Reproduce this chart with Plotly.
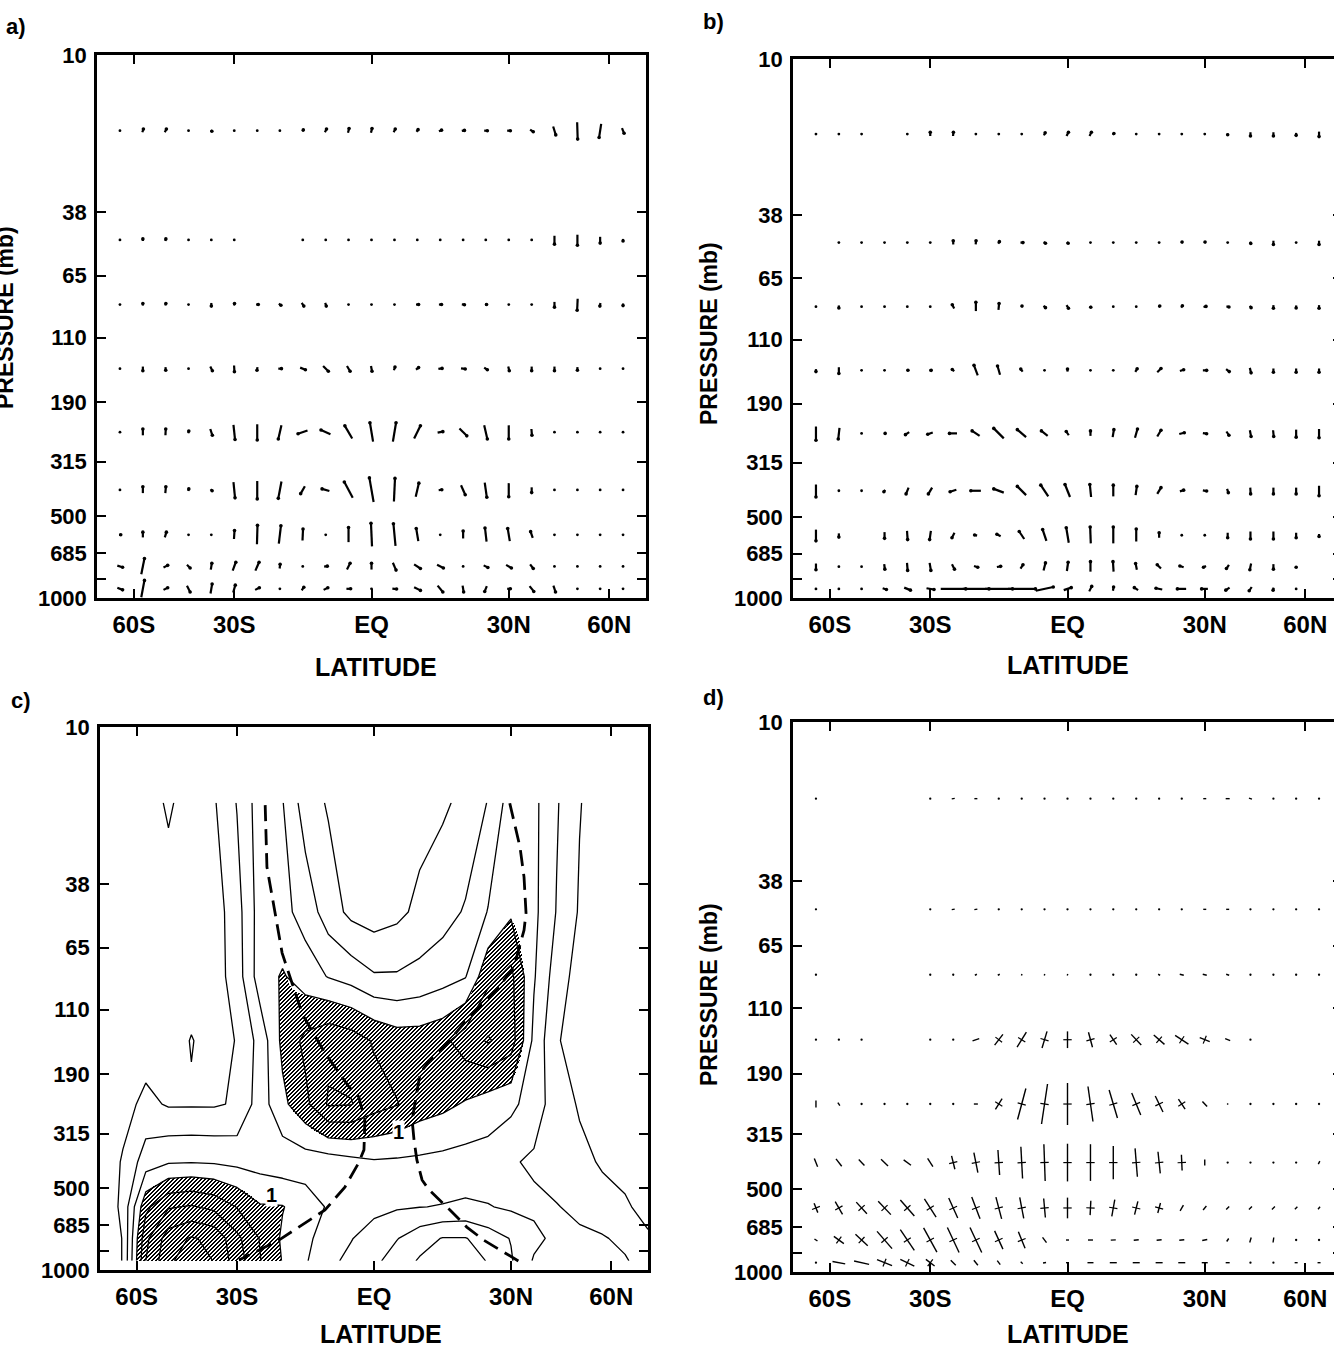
import math
import numpy as np
import plotly.graph_objects as go

FIG_W, FIG_H = 1346, 1348

# ---------------------------------------------------------------- grid
LAT = [-66.4, -56.4, -48.6, -41.8, -35.7, -30.0, -24.6, -19.5, -14.5, -9.6, -4.8, 0.0,
       4.8, 9.6, 14.5, 19.5, 24.6, 30.0, 35.7, 41.8, 48.6, 56.4, 66.4]
LEV = [19, 48, 83, 143, 245, 400, 585, 765, 925]          # mb
LAT_C = [-90.0] + LAT + [90.0]                              # contour grid incl. poles

PRESSURE_TICKS = [10, 38, 65, 110, 190, 315, 500, 685, 850, 1000]
PRESSURE_LABELS = ["10", "38", "65", "110", "190", "315", "500", "685", "", "1000"]
LAT_TICKS = [-60, -30, 0, 30, 60]
LAT_LABELS = ["60S", "30S", "EQ", "30N", "60N"]

# ---------------------------------------------------------------- (a) vectors (u northward, w upward)
A_UV = [
    [(0,0),(1,3),(1.5,3),(0.5,0),(1,-1),(0,0),(1,-0.5),(0,0),(1,1.5),(1.5,3),(1,4),(1,4),(1.5,3),(1.5,2),(2.5,1),(2.5,0.5),(3,0),(3,0),(3,-2),(2.5,-8),(0.5,-16),(-2,-13),(2,-5)],
    [(0,0),(0,2),(0.5,2),(0,0),(0,0),(0,0),None,None,(0,0),(0.3,0.8),(0.3,1),(0,0),(0,0),(0,0),(0,0),(0.5,1),(0.5,1),(0,0),(0.5,-1),(0,-8),(0,-10),(0,-6),(0,-2)],
    [(0,0),(0,2),(0.5,2),(0.5,-0.5),(0,-3),(0.5,2),(2,0),(2,-1.5),(2,-3),(1,-3),(0.3,-1),(0,0),(1,0),(2.5,0),(2.5,0),(2.5,-0.3),(1.5,0),(0,0),(0,-1),(0,-5),(-0.5,-11),(-0.5,-3),(0,-2)],
    [(0,0),(0,-4),(0.3,-3),(0.5,-0.5),(2,-4),(0.3,-6),(-0.5,-3),(3,0),(5,-2),(5,-5),(3,-5),(1,-5),(1,3),(2.5,2),(3.5,0.5),(4,-0.5),(3,-2),(1,-4),(0,-4),(0,-4),(0,-3),(0,0),(0,0)],
    [(0,0),(0,6),(0.3,6),(0.5,2),(2,-6),(1.5,-14),(0,-15),(-3,-13),(-9,-3),(-9,4),(-7,12),(-3,18),(3,18),(6,12),(5,1),(7,-7),(3,-13),(0,-13),(0.5,-6),(0.5,1),(0,0),(0,0),(0,0)],
    [(0,0),(0,6),(0.5,6),(0.5,2),(1.5,-1.5),(1.5,-15),(0,-17),(-3,-16),(-4,-7),(-7,2),(-8,15),(-4,23),(1,22),(3,13),(3,0.5),(4,-9),(2,-14),(0,-13),(0,-5),(0,0),(0,0),(0,0),(0,0)],
    [(1.5,0),(0,5),(1.5,5),(0.5,0.5),(0,0),(0.5,8),(0.5,18),(2,17),(0.5,11),(0,0),(0,14),(-1,22),(-2,21),(-2,12),(0,0),(0,7),(-1.5,13),(-2,12),(-2,6),(0,0),(0,0),(0,0),(0,0)],
    [(5,-1.5),(3,15),(4,2),(3,-3),(1,6),(3,8),(3.5,8),(0.5,4),(1,0),(3,0.5),(3,6),(0,6),(3,-7),(6,-4),(6,-3),(1,0),(4,-2),(5,-3),(3,-4),(0,0),(0,0),(0,0),(0,0)],
    [(5,-2),(3,16),(4,2),(3,-6),(1.5,9),(2,7),(4,2),(0,0),(2,3),(4,2),(4,0),(0,0),(4,-0.5),(6,-3),(5,-6),(1,-6),(-2,-5),(3,0),(4,-5),(2,-6),(0.5,0),(0,0),(0,0)],
]

# ---------------------------------------------------------------- (b) vectors
B_UV = [
    [(0,0),(0,0),(0,0),None,(0,0),(0,3),(0.3,3),(0,0),(0,0),(0,0),(1,2),(1.5,3),(1.5,3),(1,1),(0,0),(0,0),(0,0),(0,0),(0,-1),(0,-3),(0,-3),(0,-2),(0,-4)],
    [None,(0,0),(0,0),(0,0),(0,0),(0,0),(0,3),(0.3,3),(1,1.5),(2,0),(1.5,-1),(1,-1),(0,0),(0,0),(0,0),(0,0),(0.5,1),(0.5,1),(0,0),(0.5,-1.5),(0,-3),(0,0),(0,-3)],
    [(0,0),(0,-2),(0,0),(0,0),(0,0),(0.5,-0.5),(-1.5,3),(0,7),(0.5,5),(0.5,1),(1.5,-1.5),(1.5,-2.5),(0.5,-1),(0,0),(0,0),(1,1),(1,1.5),(2,0.5),(2,-0.5),(1,-1.5),(0,-2.5),(0,-2),(0,-2.5)],
    [(0,-2),(0,-5),(0,0),(0.5,-0.3),(1,0.3),(1.5,0),(-1.5,1.5),(-3,8),(-2,7),(-1.5,2),(0.3,0),(0,2),(0,0),(0.5,0.5),(1.5,2.5),(3,3),(3,1),(3,0),(2.5,-2),(1,-4),(0,-3),(0,-3),(0,-3)],
    [(0,-11),(-1,-9),(0,0),(1,0),(-3,-2),(-4,-1.5),(-6,0),(-6,4),(-8,8),(-7,6),(-5,4),(-2,3),(0,4),(1,6),(2,7),(3,5),(4,1),(3,-0.5),(2,-3),(1,-5),(0.5,-5),(0,-6),(0,-7)],
    [(0,-10),(0,0),(0,0),(-1,-1.5),(-2,-5),(-3,-5),(-5,-1.5),(-8,0),(-8,3),(-7,7),(-6,9),(-4,10),(-1,10),(0,9),(1,7),(3,5),(3,1),(3,-0.5),(1,-3),(0.3,-5),(0,-5),(0,-5),(0,-8)],
    [(0,-9),(0,-3),None,(0,-5),(0.5,-7),(-1,-7),(-2,-4),(-2,0.5),(-3,1.5),(-4,6),(-3,9),(-2,12),(-0.5,13),(0,13),(0,10),(0,4),(0,0),(0,0),(0,-4),(0,-6),(0,-6),(0,-4),(0,-2)],
    [(0,-5),(0,0),(0,0),(0.5,-4),(0.5,-6),(1,-6),(2,-4),(3,-1),(3,0.5),(2,3),(1.5,6),(1,7),(0,8),(-0.5,8),(-1,5),(-3,3),(-3,1),(-2,-1),(-2,-3),(-1,-5),(0,-4),(0,-1),None],
    [(0,0),(0,0),(0,0),(3,-1),(5,-2),(6,-1),(20,0),(21,0),(22,0),(22,0),(14,3),(6,2),(2,4),(0.5,3),(-3,2),(-5,1),(-7,0),(-5,0),(-3,-2),(-2,-3),(-0.5,-2),(0,0),None],
]

# ---------------------------------------------------------------- (d) flux vectors
D_UV = [
    [(0,0),None,None,None,None,(0,0),(3,0.5),(3,0),(0,0),(0,0),(0,0),(0,0),(0,0),(0,0),(0,0),(0,0),(0,0),(3,0),(4,0),(3,-1),(0,0),(0,0),(0,0)],
    [(0,0),None,None,None,None,(0,0),(3,0.5),(3,0.5),(0,0),(0,0),(0,0),(0,0),(0,0),(0,0),(0,0),(0,0),(0,0),(3,0),(3,0),(0,0),(0,0),(0,0),(0,0)],
    [(0,0),None,None,None,None,(0,0),(0,0),(2,1),(2,1),(0.5,1.5),(0.5,1.5),(0.5,1.5),(0,0),(0,0),(1,-0.5),(2,-1),(4,-1),(4,-1),(3,-1),(0,0),(0,0),(0,0),(0,0)],
    [(0,0),(0,0),(0,0),None,None,(0,0),(0,0),(6.7,2.3),(8.3,10.7),(9.3,15),(5,16.7),(0,16.7),(-4,15),(-6.7,10),(-10,10.7),(-10.7,9.3),(-13.3,8.7),(-10,4),(-5,2),(0,0),None,None,None],
    [(0,7),(-2,3),(0,0),(0,0),(0,0),(0,0),(0,0),(4,0),(6.7,10.7),(8.3,31),(6,40),(0,42),(-5,35),(-8.3,28),(-9,22),(-7.7,16),(-6.7,10),(-4.7,5),(-1,1),(0,0),(0,0),(0,0),(0,0)],
    [(-3.3,8.3),(-5.7,7.3),(-5.7,6),(-7,6.7),(-7.3,5.3),(-5.3,8.3),(-3.3,13.3),(-4,20),(-1.7,25),(-1.7,31.7),(-1.3,36.7),(0,37.7),(0,36.7),(0,33.3),(-2.3,28.3),(-2.3,21.7),(-0.7,15.7),(0,6),(0,0),(0,0),(0,0),(0.5,0.5),(1.5,3)],
    [(-3.7,9.3),(-7.3,12.7),(-10.7,11.7),(-12.7,13.3),(-14,16),(-11.7,18.3),(-9,20),(-8.3,21.7),(-5.7,21.7),(-4,21),(-1.7,19),(0,20.7),(0.7,14.3),(3,16.7),(3.3,13.3),(2.7,10),(3.3,5.7),(3.3,4),(3,3),(3,3),(3,3),(2.5,2.5),(2,2.5)],
    [(-3,2),(-10,7.3),(-12.3,11.7),(-15,17.3),(-14,20.7),(-13.3,24.3),(-11.7,25),(-11.7,25),(-8.3,18.3),(-6.7,16.7),(-4,5.3),(3,0),(5,0),(5,0.3),(5,0.5),(5,0.5),(5,0.5),(5,1),(2,3),(1.5,5),(0.7,5),(0,0),(0,0)],
    [(0,0),(-12.7,2.3),(-15,3.3),(-15,6),(-14,6.7),(-8.7,6.7),(-5,5),(-4,5),(-3,4),(-2,2),(3,0.5),(3,0),(6,0),(7,0),(7,0),(7,0),(7,0),(6,0),(4,0),(0,0),(0,0),(3,0),(3,0)],
]

# ---------------------------------------------------------------- (c) ratio field on LAT_C x LEV
C_Z = [
    [0.3, 0.3,0.3,0.43,0.3,0.38,0.61,0.9,0.81,0.5,0.38,0.3,0.28,0.3,0.32,0.37,0.45,0.61,0.9,0.85,0.62,0.41,0.3,0.3, 0.3],
    [0.3, 0.3,0.3,0.3,0.3,0.3,0.52,0.89,0.86,0.72,0.5,0.35,0.3,0.35,0.45,0.52,0.62,0.81,0.97,0.85,0.59,0.38,0.3,0.3, 0.3],
    [0.3, 0.3,0.3,0.3,0.3,0.3,0.5,0.9,1.02,0.9,0.79,0.72,0.62,0.62,0.66,0.72,0.79,1.15,1.25,0.82,0.5,0.32,0.3,0.3, 0.3],
    [0.3, 0.3,0.3,0.3,0.41,0.32,0.41,0.67,1.05,1.25,1.35,1.3,1.18,1.1,1.1,1.15,1.3,1.42,1.3,0.75,0.42,0.3,0.3,0.3, 0.3],
    [0.3, 0.33,0.45,0.38,0.38,0.38,0.42,0.7,0.95,1.15,1.42,1.41,1.28,1.21,1.1,1.05,0.98,0.9,0.85,0.7,0.5,0.38,0.3,0.3, 0.3],
    [0.25, 0.42,0.7,0.78,0.79,0.78,0.75,0.72,0.68,0.7,0.7,0.74,0.78,0.77,0.76,0.74,0.72,0.72,0.62,0.57,0.5,0.45,0.38,0.35, 0.3],
    [0.22, 0.45,1.15,1.38,1.42,1.35,1.19,1.02,1.01,0.9,0.78,0.7,0.66,0.62,0.605,0.59,0.57,0.59,0.63,0.64,0.61,0.55,0.47,0.42, 0.35],
    [0.22, 0.41,1.35,1.7,1.82,1.75,1.45,1.19,0.97,0.85,0.7,0.61,0.5,0.41,0.28,0.19,0.19,0.3,0.41,0.55,0.65,0.64,0.62,0.55, 0.42],
    [0.22, 0.41,1.4,1.75,1.95,1.79,1.5,1.21,0.99,0.82,0.65,0.55,0.45,0.3,0.18,0.1,0.12,0.21,0.38,0.62,0.68,0.66,0.63,0.62, 0.5],
]
C_LEVELS = (0.2, 1.8, 0.2)
SHADE_FROM = 1.0

# zero-wind lines (lat, mb)
DASH_W_LAT = [-23.4, -23.0, -21.4, -19.6, -15.2, -10.3, -5.2, -3.2, -1.9, -2.1, -3.2, -6.1, -10.3, -14.6, -20.3, -29.5]
DASH_W_P = [19.4, 32.8, 46, 67.9, 114, 159, 212, 230, 280, 361, 403, 495, 601, 671, 776, 919]
DASH_E_LAT = [29.7, 32.2, 33.2, 33.7, 33.2, 30.7, 26.0, 19.8, 16.1, 11.8, 9.7, 8.4, 8.0, 8.4, 9.0, 10.1, 11.6, 16.1, 19.8, 23.6, 32.2]
DASH_E_P = [19.1, 27.7, 35.7, 48.4, 56, 76.6, 95.5, 120, 142, 169, 188, 251, 280, 332, 393, 466, 507, 601, 695, 776, 934]

C_LABELS = [(5.2, 310, "1"), (-21.9, 530, "1")]

# ---------------------------------------------------------------- layout helpers
BOX = {1: (97, 646, 55, 598), 2: (793, 1342, 59, 598),
       3: (100, 648, 727, 1270), 4: (793, 1342, 722, 1272)}
FONT = "Liberation Sans, Arial, Helvetica, sans-serif"
YTICK_FONT = dict(family=FONT, size=22, color="black", weight="bold")
XTICK_FONT = dict(family=FONT, size=24, color="black", weight="bold")


def sx(lat):
    return math.sin(math.radians(lat))


def ly(p):
    return math.log10(p)


fig = go.Figure()

axes = {}
for n, (l, r, t, b) in BOX.items():
    s = "" if n == 1 else str(n)
    axes["xaxis" + s] = dict(
        domain=[l / FIG_W, r / FIG_W], range=[-1, 1], anchor="y" + s,
        tickmode="array", tickvals=[sx(v) for v in LAT_TICKS], ticktext=LAT_LABELS,
        ticks="inside", ticklen=9, tickwidth=2, tickcolor="black",
        showline=True, linewidth=2.5, linecolor="black", mirror="ticks",
        showgrid=False, zeroline=False, tickfont=XTICK_FONT, ticklabelstandoff=3,
        automargin=False, fixedrange=True)
    axes["yaxis" + s] = dict(
        domain=[1 - b / FIG_H, 1 - t / FIG_H], range=[3, 1], anchor="x" + s,
        tickmode="array", tickvals=[ly(v) for v in PRESSURE_TICKS], ticktext=PRESSURE_LABELS,
        ticks="inside", ticklen=9, tickwidth=2, tickcolor="black",
        showline=True, linewidth=2.5, linecolor="black", mirror="ticks",
        showgrid=False, zeroline=False, tickfont=YTICK_FONT, ticklabelstandoff=3,
        automargin=False, fixedrange=True)


def add_vectors(uv, n, scale=1.0, heads=True, cross=False, lw=2.2):
    """Draw each (u, w) centred on its grid point; scale = px per vector unit."""
    l, r, t, b = BOX[n]
    px_x = (r - l) / 2.0       # px per unit of sin(lat)
    px_y = (b - t) / 2.0       # px per decade of pressure
    s = "" if n == 1 else str(n)
    xs, ys = [], []
    hx, hy = [], []
    cx, cy, ca = [], [], []
    dx, dy = [], []
    for i, p in enumerate(LEV):
        y0 = ly(p)
        for j, lat in enumerate(LAT):
            v = uv[i][j]
            if v is None:
                continue
            u, w = v[0] * scale, v[1] * scale
            x0 = sx(lat)
            L = math.hypot(u, w)
            if L < 1.2:
                dx.append(x0)
                dy.append(y0)
                continue
            ddx, ddy = u / px_x, w / px_y
            xs += [x0 - ddx / 2, x0 + ddx / 2, None]
            ys += [y0 + ddy / 2, y0 - ddy / 2, None]
            ang = math.degrees(math.atan2(u, w))
            if heads:
                hx.append(x0 + ddx / 2)
                hy.append(y0 - ddy / 2)
            if cross and L > 10 and abs(w) >= 4:
                cx.append(x0)
                cy.append(y0)
                ca.append(ang + 90)
    common = dict(xaxis="x" + s, yaxis="y" + s, hoverinfo="skip", showlegend=False)
    fig.add_trace(go.Scatter(x=xs, y=ys, mode="lines", line=dict(color="black", width=lw), **common))
    fig.add_trace(go.Scatter(x=dx, y=dy, mode="markers",
                             marker=dict(color="black", size=2.8 if heads else 2.3, symbol="circle"), **common))
    if heads:
        fig.add_trace(go.Scatter(x=hx, y=hy, mode="markers",
                                 marker=dict(color="black", size=3.6, symbol="circle"), **common))
    if cross:
        fig.add_trace(go.Scatter(x=cx, y=cy, mode="markers",
                                 marker=dict(symbol="line-ns", size=6, angle=ca,
                                             line=dict(color="black", width=1.2)), **common))


add_vectors(A_UV, 1, scale=1.05)
add_vectors(B_UV, 2, scale=1.25)
add_vectors(D_UV, 4, heads=False, cross=True, lw=1.4)

# ---------------------------------------------------------------- panel (c)
cx_grid = np.array([sx(v) for v in LAT_C])
cy_grid = np.array([ly(p) for p in LEV])
Z = np.array(C_Z)

# diagonal hatching of the region above SHADE_FROM, one heatmap cell per pixel
l, r, t, b = BOX[3]
npx, npy = r - l, b - t
hx = -1 + (np.arange(npx) + 0.5) * 2.0 / npx
hy = 1 + (np.arange(npy) + 0.5) * 2.0 / npy
rows = np.array([np.interp(hx, cx_grid, Z[k]) for k in range(len(LEV))])
inside = (hy >= cy_grid[0]) & (hy <= cy_grid[-1])
k = np.clip(np.searchsorted(cy_grid, hy) - 1, 0, len(LEV) - 2)
frac = (hy - cy_grid[k]) / (cy_grid[k + 1] - cy_grid[k])
vals = rows[k] * (1 - frac)[:, None] + rows[k + 1] * frac[:, None]
vals[~inside] = np.nan
I, J = np.meshgrid(np.arange(npx), np.arange(npy))
hatch = (vals >= SHADE_FROM) & (((I + J) % 4) < 2)
hz_list = [[(1 if h else None) for h in row] for row in hatch]
fig.add_trace(go.Heatmap(x=hx, y=hy, z=hz_list, zmin=0, zmax=1, zsmooth=False,
                         colorscale=[[0, "black"], [1, "black"]], showscale=False,
                         hoverinfo="skip", xaxis="x3", yaxis="y3"))

fig.add_trace(go.Contour(
    x=cx_grid, y=cy_grid, z=Z,
    contours=dict(start=C_LEVELS[0], end=C_LEVELS[1], size=C_LEVELS[2], coloring="lines"),
    line=dict(color="black", width=1.3, smoothing=0),
    colorscale=[[0, "black"], [1, "black"]], showscale=False, hoverinfo="skip",
    xaxis="x3", yaxis="y3"))

for lats, ps in ((DASH_W_LAT, DASH_W_P), (DASH_E_LAT, DASH_E_P)):
    fig.add_trace(go.Scatter(x=[sx(v) for v in lats], y=[ly(p) for p in ps], mode="lines",
                             line=dict(color="black", width=2.8, dash="16px,8px"),
                             hoverinfo="skip", showlegend=False, xaxis="x3", yaxis="y3"))

annotations = []
for lat, p, txt in C_LABELS:
    annotations.append(dict(x=sx(lat), y=ly(p), xref="x3", yref="y3", text=txt, showarrow=False,
                            font=dict(family=FONT, size=20, color="black", weight="bold"),
                            bgcolor="white", borderpad=0))


def px_note(x, y, text, angle=0, size=22, xanchor="center"):
    annotations.append(dict(x=x / FIG_W, y=1 - y / FIG_H, xref="paper", yref="paper",
                            text=text, showarrow=False, textangle=angle, xanchor=xanchor,
                            yanchor="middle",
                            font=dict(family=FONT, size=size, color="black", weight="bold")))


px_note(28, 27, "a)", xanchor="right")
px_note(726, 21, "b)", xanchor="right")
px_note(33, 700, "c)", xanchor="right")
px_note(726, 697, "d)", xanchor="right")
px_note(376, 667, "LATITUDE", size=25)
px_note(1068, 665, "LATITUDE", size=25)
px_note(381, 1334, "LATITUDE", size=25)
px_note(1068, 1334, "LATITUDE", size=25)
px_note(5, 318, "PRESSURE (mb)", angle=-90, size=23)
px_note(709, 334, "PRESSURE (mb)", angle=-90, size=23)
px_note(709, 995, "PRESSURE (mb)", angle=-90, size=23)

fig.update_layout(
    width=FIG_W, height=FIG_H, margin=dict(l=0, r=0, t=0, b=0, autoexpand=False),
    paper_bgcolor="white", plot_bgcolor="white", showlegend=False,
    annotations=annotations, **axes)

fig.write_html("out.html", config={"displayModeBar": False},
               post_script="document.documentElement.style.overflow='hidden';"
                           "document.body.style.overflow='hidden';")
